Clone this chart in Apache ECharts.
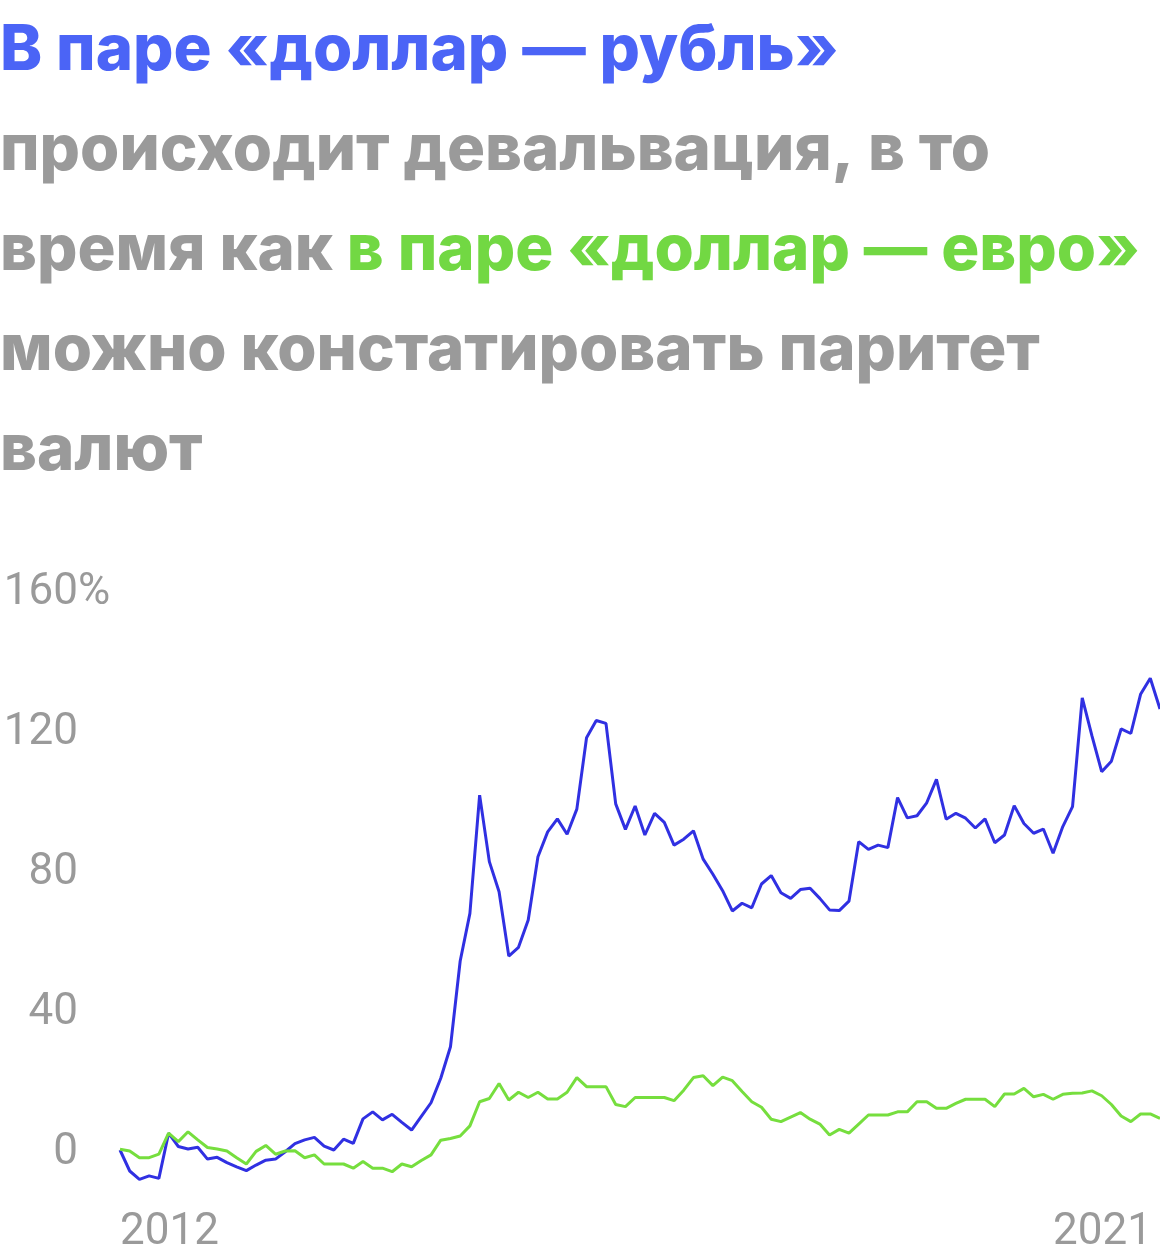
<!DOCTYPE html>
<html>
<head>
<meta charset="utf-8">
<script src="https://cdn.jsdelivr.net/npm/echarts@6/dist/echarts.min.js"></script>
<style>
html,body{margin:0;padding:0;background:#fff;}
#chart{width:1160px;height:1260px;}
</style>
</head>
<body>
<div id="chart"></div>
<script>
// Change vs. start of 2012, %, monthly
const usdRub = [0, -6.0, -8.4, -7.4, -8.1, 4.8, 1.0, 0.3, 0.8, -2.6,
  -2.1, -3.6, -4.8, -5.9, -4.3, -2.9, -2.6, -0.5, 1.8, 2.9,
  3.6, 1.1, 0.0, 3.1, 1.9, 8.9, 10.9, 8.6, 10.2, 7.9,
  5.7, 9.6, 13.5, 20.5, 29.5, 54.0, 67.6, 101.4, 82.4, 73.8,
  55.4, 57.9, 65.7, 83.8, 90.9, 94.6, 90.2, 97.4, 117.8, 122.7,
  121.9, 98.9, 91.6, 98.3, 90.0, 96.2, 93.6, 87.1, 88.8, 91.2,
  83.1, 78.8, 74.1, 68.3, 70.5, 69.2, 76.0, 78.4, 73.5, 71.9,
  74.4, 74.8, 71.9, 68.6, 68.4, 71.1, 88.1, 85.9, 87.1, 86.4,
  100.7, 94.9, 95.5, 99.2, 105.9, 94.5, 96.2, 94.8, 92.0, 94.6,
  87.8, 90.0, 98.4, 93.3, 90.5, 91.7, 84.8, 92.4, 98.1, 129.2,
  118.3, 108.1, 111.1, 120.3, 119.0, 130.2, 134.8, 126.0];
const usdEur = [0.2, -0.3, -2.2, -2.2, -1.2, 4.8, 2.4, 5.2, 2.9, 0.7,
  0.3, -0.3, -2.2, -4.0, -0.4, 1.3, -1.2, -0.3, -0.2, -2.2,
  -1.4, -4.0, -4.0, -4.0, -5.2, -3.3, -5.2, -5.2, -6.2, -4.0,
  -4.8, -3.0, -1.4, 2.8, 3.3, 4.0, 6.9, 13.8, 14.7, 19.0,
  14.3, 16.5, 15.0, 16.5, 14.6, 14.6, 16.5, 20.7, 18.1, 18.1,
  18.1, 13.0, 12.4, 15.0, 15.0, 15.0, 15.0, 14.1, 17.1, 20.7,
  21.2, 18.4, 20.8, 19.8, 16.7, 13.8, 12.2, 8.8, 8.1, 9.4,
  10.7, 8.8, 7.4, 4.3, 5.9, 4.8, 7.4, 10.0, 10.0, 10.0,
  10.9, 10.9, 13.8, 13.8, 11.9, 11.9, 13.3, 14.5, 14.5, 14.5,
  12.4, 16.0, 16.0, 17.6, 15.2, 15.9, 14.5, 15.9, 16.2, 16.3,
  16.9, 15.5, 13.0, 9.7, 8.1, 10.3, 10.3, 9.0];
const xTickLabels = ['2012', '2021'];
const yTicks = [0, 40, 80, 120, 160];

const months = [];
for (let i = 0; i < usdRub.length; i++) {
  const y = 2012 + Math.floor(i / 12), m = (i % 12) + 1;
  months.push(y + '-' + (m < 10 ? '0' + m : m));
}

const chart = echarts.init(document.getElementById('chart'), null, {renderer: 'canvas'});
const TF = 'Inter, "Noto Sans", sans-serif';
const LF = 'Roboto, "Noto Sans", sans-serif';
const tStyle = (c) => ({color: c, fontSize: 63.5, fontWeight: 800, fontFamily: TF, lineHeight: 100});
chart.setOption({
  backgroundColor: '#ffffff',
  animation: false,
  title: {
    left: 0, top: 1, padding: 0,
    text: '{b|В паре «доллар — рубль»}\n{g|происходит девальвация, в то}\n{g|время как }{e|в паре «доллар — евро»}\n{g|можно констатировать паритет}\n{g|валют}',
    textStyle: {rich: {b: tStyle('#4b64f6'), g: tStyle('#9a9a9a'), e: tStyle('#72d843')}}
  },
  grid: {left: 120, right: 0, top: 590, bottom: 110, outerBoundsMode: 'none', containLabel: false},
  xAxis: {
    type: 'category', data: months, boundaryGap: false,
    axisLine: {show: false}, axisTick: {show: false}, splitLine: {show: false},
    axisLabel: {
      interval: (idx) => idx === 0 || idx === months.length - 1,
      formatter: (v, idx) => idx === 0 ? xTickLabels[0] : xTickLabels[1],
      alignMinLabel: 'left', alignMaxLabel: 'right',
      padding: [0, 8, 0, 0],
      color: '#9a9a9a', fontSize: 44, fontFamily: LF, margin: 61
    }
  },
  yAxis: {
    type: 'value', min: yTicks[0], max: yTicks[yTicks.length - 1], interval: 40,
    axisLine: {show: false}, axisTick: {show: false}, splitLine: {show: false},
    axisLabel: {
      margin: 42, color: '#9a9a9a', fontSize: 44, fontFamily: LF,
      padding: [6, 0, 0, 0],
      formatter: (v) => v === yTicks[yTicks.length - 1] ? '{n|' + v + '}{p|%}' : '' + v,
      rich: {
        n: {color: '#9a9a9a', fontSize: 44, fontFamily: LF, align: 'left'},
        p: {color: '#9a9a9a', fontSize: 44, fontFamily: LF, width: 0, align: 'left'}
      }
    }
  },
  series: [
    {name: 'USD/RUB', type: 'line', data: usdRub, showSymbol: false, clip: false,
     lineStyle: {color: '#3030e2', width: 3}, itemStyle: {color: '#3030e2'}},
    {name: 'USD/EUR', type: 'line', data: usdEur, showSymbol: false, clip: false,
     lineStyle: {color: '#76de3e', width: 3}, itemStyle: {color: '#76de3e'}}
  ]
});
</script>
</body>
</html>
